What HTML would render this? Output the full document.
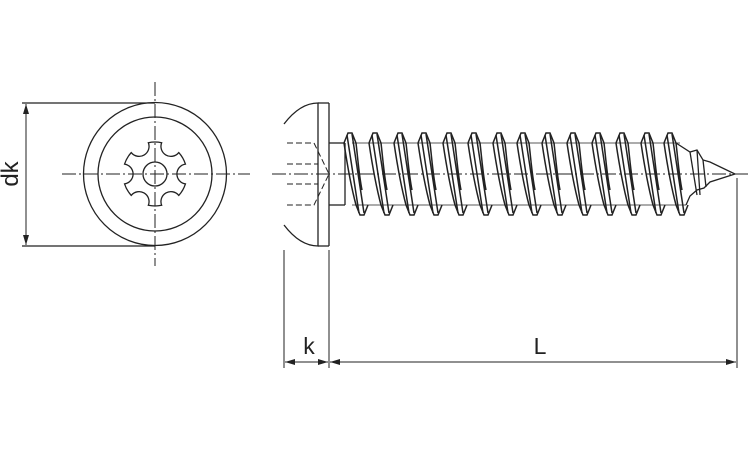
<!DOCTYPE html>
<html><head><meta charset="utf-8"><style>
html,body{margin:0;padding:0;background:#fff;width:750px;height:450px;overflow:hidden}
</style></head><body>
<svg width="750" height="450" viewBox="0 0 750 450" xmlns="http://www.w3.org/2000/svg" fill="none" stroke="#222" stroke-width="1.3">
<defs>
<marker id="a" markerWidth="10" markerHeight="6" refX="10" refY="3" orient="auto-start-reverse" markerUnits="userSpaceOnUse"><path d="M0,0 L10,3 L0,6 z" fill="#222" stroke="none"/></marker>
<g id="t" stroke-width="1.5">
<path d="M-6,143 L-2,133 L2,133 L6,143"/>
<path d="M6,205 L10,215 L14,215 L18,205"/>
<path d="M-3,135 L9,213 M2,134 L14,213 M-6,143 C-2,170 2,190 6,205 M6,143 C8,160 9,175 12,190"/>
</g>
</defs>
<!-- top view -->
<line x1="155" y1="82" x2="155" y2="266" stroke-dasharray="14,3,2,3" stroke-width="1"/>
<line x1="62" y1="174" x2="250" y2="174" stroke-dasharray="14,3,2,3" stroke-width="1"/>
<circle cx="155" cy="174" r="71.5"/>
<circle cx="155" cy="174" r="57"/>
<circle cx="155" cy="174" r="12"/>
<path d="M185.43,164.11 A10,10 0 0 0 185.43,183.89 A32,32 0 0 1 178.78,195.41 A10,10 0 0 0 161.65,205.3 A32,32 0 0 1 148.35,205.3 A10,10 0 0 0 131.22,195.41 A32,32 0 0 1 124.57,183.89 A10,10 0 0 0 124.57,164.11 A32,32 0 0 1 131.22,152.59 A10,10 0 0 0 148.35,142.7 A32,32 0 0 1 161.65,142.7 A10,10 0 0 0 178.78,152.59 A32,32 0 0 1 185.43,164.11 Z"/>
<!-- dk -->
<line x1="22" y1="103" x2="155" y2="103"/>
<line x1="22" y1="246" x2="155" y2="246"/>
<line x1="26" y1="104" x2="26" y2="245" marker-start="url(#a)" marker-end="url(#a)" stroke-width="1"/>
<text x="10" y="174" transform="rotate(-90 10 174)" dy="8" text-anchor="middle" font-family="Liberation Sans, sans-serif" font-size="24" fill="#222" stroke="none">dk</text>
<!-- side view head -->
<path d="M284,124 Q300,103 318,103 L318,246 Q300,246 284,225"/>
<line x1="318" y1="103" x2="329" y2="103"/><line x1="318" y1="246" x2="329" y2="246"/>
<line x1="329" y1="103" x2="329" y2="246"/>
<path d="M287,143 L314,143 L329,174 L314,205 L287,205 M287,164 L318,164 M287,184 L318,184" stroke-dasharray="6,3" stroke-width="1"/>
<line x1="272" y1="174" x2="748" y2="174" stroke-dasharray="14,3,2,3" stroke-width="1"/>
<!-- shank -->
<line x1="329" y1="143" x2="345" y2="143"/><line x1="329" y1="205" x2="345" y2="205"/>
<path d="M345,143 L345,205"/>
<g>
<use href="#t" x="350"/><use href="#t" x="375"/><use href="#t" x="400"/><use href="#t" x="424"/>
<use href="#t" x="449"/><use href="#t" x="474"/><use href="#t" x="499"/><use href="#t" x="523"/>
<use href="#t" x="548"/><use href="#t" x="573"/><use href="#t" x="598"/><use href="#t" x="622"/>
<use href="#t" x="647"/><use href="#t" x="670"/>
</g>
<line x1="352" y1="143" x2="680" y2="143" stroke-width="0.8"/>
<line x1="352" y1="205" x2="686" y2="205" stroke-width="0.8"/>
<path d="M676,143 L690,152 L697,150 L703,160 L710,162 L735,174 L710,182 L704,188 L697,190 L690,196 L686,205"/>
<path d="M690,152 L697,195 M703,160 L706,187 M697,150 L700,195"/>
<!-- dimensions k, L -->
<line x1="284" y1="250" x2="284" y2="368" stroke-width="1"/>
<line x1="329" y1="250" x2="329" y2="368" stroke-width="1"/>
<line x1="737" y1="178" x2="737" y2="368" stroke-width="1"/>
<line x1="285" y1="362" x2="328" y2="362" marker-start="url(#a)" marker-end="url(#a)" stroke-width="1"/>
<line x1="330" y1="362" x2="736" y2="362" marker-start="url(#a)" marker-end="url(#a)" stroke-width="1"/>
<text x="309" y="354" text-anchor="middle" font-family="Liberation Sans, sans-serif" font-size="23" fill="#222" stroke="none">k</text>
<text x="540" y="354" text-anchor="middle" font-family="Liberation Sans, sans-serif" font-size="23" fill="#222" stroke="none">L</text>
</svg>
</body></html>
